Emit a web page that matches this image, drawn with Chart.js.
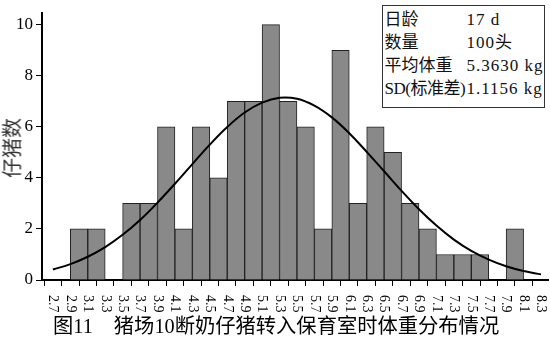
<!DOCTYPE html>
<html>
<head>
<meta charset="utf-8">
<script src="https://cdn.jsdelivr.net/npm/chart.js@4.4.0/dist/chart.umd.min.js"></script>
<style>
body { margin: 0; background: #fff; }
#wrap { position: relative; width: 550px; height: 351px; }
#wrap canvas { position: absolute; left: 0; top: 0; }
#yTitle {
    position: absolute; left: 11px; top: 148px;
    transform: translate(-50%, -50%) rotate(-90deg);
    font: 20px 'Noto Sans CJK SC'; color: #333; white-space: nowrap;
}
#info {
    position: absolute; left: 382px; top: 5px; width: 159px; height: 99px;
    border: 1.5px solid #333; padding: 2px 0 0 1.5px; box-sizing: content-box;
    font: 17px 'Liberation Serif', 'Noto Sans CJK SC'; line-height: 23px; color: #111;
    background: #fff;
}
#info .row { display: flex; white-space: nowrap; }
#info .k { width: 82px; }
#info .k.tight { letter-spacing: -0.5px; }
#info .v { letter-spacing: 1px; }
#caption {
    position: absolute; left: 53px; top: 314px;
    font: 20.3px 'Liberation Serif', 'Noto Sans CJK SC'; line-height: 24px; color: #000;
    white-space: nowrap;
}
</style>
</head>
<body>
<div id="wrap">
    <canvas id="chart" width="550" height="351"></canvas>
    <div id="yTitle">仔猪数</div>
    <div id="info"></div>
    <div id="caption">图11<span style="margin-left:21px">猪场10断奶仔猪转入保育室时体重分布情况</span></div>
</div>
<script>
// x tick labels (bin edges, kg)
var tickLabels = ['2.7', '2.9', '3.1', '3.3', '3.5', '3.7', '3.9', '4.1', '4.3', '4.5',
    '4.7', '4.9', '5.1', '5.3', '5.5', '5.7', '5.9', '6.1', '6.3', '6.5',
    '6.7', '6.9', '7.1', '7.3', '7.5', '7.7', '7.9', '8.1', '8.3'];
// number of piglets in each 0.2 kg bin (2.7-2.9 ... 8.1-8.3)
var pigCounts = [0, 2, 2, 0, 3, 3, 6, 2, 6, 4, 7, 7, 10, 7, 6, 2, 9, 3, 6, 5, 3, 2, 1, 1, 1, 0, 2, 0];
// fitted curve read at each tick
var curveValues = [0.41, 0.62, 0.91, 1.29, 1.77, 2.35, 3.03, 3.77, 4.54, 5.3, 5.99, 6.56, 6.95, 7.14,
    7.1, 6.83, 6.37, 5.75, 5.02, 4.26, 3.49, 2.77, 2.13, 1.58, 1.14, 0.8, 0.54, 0.35, 0.22];
var yTicks = [0, 2, 4, 6, 8, 10];
var infoRows = [
    ['日龄', '17 d'],
    ['数量', '100头'],
    ['平均体重', '5.3630 kg'],
    ['SD(标准差)', '1.1156 kg']
];

var html = '';
infoRows.forEach(function(r) {
    var cls = r[0].length > 5 ? 'k tight' : 'k';
    html += '<div class="row"><span class="' + cls + '">' + r[0] + '</span><span class="v">' + r[1] + '</span></div>';
});
document.getElementById('info').innerHTML = html;

var tickValues = tickLabels.map(function(t) { return parseFloat(t); });

var barData = pigCounts.map(function(c, i) {
    return { x: (tickValues[i] + tickValues[i + 1]) / 2, y: c };
});
var curveData = curveValues.map(function(v, i) {
    return { x: tickValues[i], y: v };
});

// rotated x labels, reading top to bottom
var xLabelPlugin = {
    id: 'xLabels',
    afterDraw: function(chart) {
        var ctx = chart.ctx;
        var scale = chart.scales.x;
        ctx.save();
        ctx.font = '14px "Liberation Serif"';
        ctx.fillStyle = '#000';
        ctx.textAlign = 'left';
        ctx.textBaseline = 'middle';
        tickLabels.forEach(function(label, i) {
            var x = scale.getPixelForValue(tickValues[i]);
            ctx.save();
            ctx.translate(x, chart.chartArea.bottom + 15);
            ctx.rotate(Math.PI / 2);
            ctx.fillText(label, 0, 0);
            ctx.restore();
        });
        ctx.restore();
    }
};

new Chart(document.getElementById('chart'), {
    type: 'bar',
    data: {
        datasets: [{
            type: 'line',
            data: curveData,
            borderColor: '#000',
            borderWidth: 2,
            pointRadius: 0,
            tension: 0.4,
            fill: false,
            order: 0
        }, {
            type: 'bar',
            data: barData,
            backgroundColor: '#898989',
            borderColor: '#222',
            borderWidth: 1,
            barPercentage: 1,
            categoryPercentage: 1,
            order: 1
        }]
    },
    options: {
        responsive: false,
        animation: false,
        layout: { padding: { top: 0, right: 2, left: 0, bottom: 0 } },
        plugins: { legend: { display: false }, tooltip: { enabled: false } },
        scales: {
            x: {
                type: 'linear',
                offset: false,
                min: 2.575,
                max: 8.38,
                afterBuildTicks: function(scale) {
                    scale.ticks = tickValues.map(function(v) { return { value: v }; });
                },
                afterFit: function(scale) { scale.height = 71; },
                ticks: { display: false },
                grid: { drawOnChartArea: false, color: '#000', tickLength: 6, lineWidth: 1 },
                border: { display: true, color: '#000', width: 2 }
            },
            y: {
                min: 0,
                max: 10.45,
                afterBuildTicks: function(scale) {
                    scale.ticks = yTicks.map(function(v) { return { value: v }; });
                },
                afterFit: function(scale) { scale.width = 42; },
                ticks: {
                    color: '#000',
                    padding: 3,
                    font: { family: 'Liberation Serif', size: 17 }
                },
                grid: { drawOnChartArea: false, color: '#000', tickLength: 6, lineWidth: 1 },
                border: { display: true, color: '#000', width: 2 }
            }
        }
    },
    plugins: [xLabelPlugin]
});
</script>
</body>
</html>
